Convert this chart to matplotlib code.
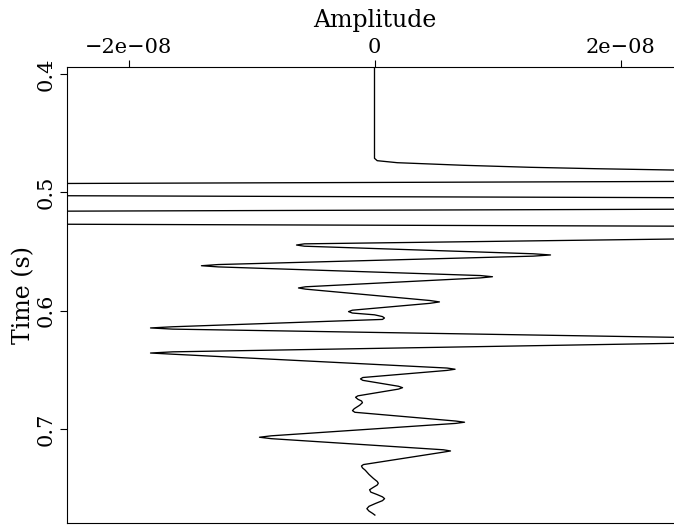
import matplotlib.pyplot as plt

plt.rcParams['font.family'] = 'DejaVu Serif'

# trace samples (time in s, amplitude in units of 1e-9)
time = [0.380, 0.4713, 0.4733, 0.4750, 0.4772, 0.4789, 0.4801, 0.4812,
        # clipped burst
        0.4860, 0.4908, 0.4926, 0.4978, 0.5029, 0.5046, 0.5095, 0.5143,
        0.5160, 0.5215, 0.5270, 0.5287, 0.5340, 0.5393,
        # main wavelet
        0.5436, 0.5446, 0.5456, 0.5520, 0.5530, 0.5540,
        0.5611, 0.5621, 0.5631, 0.5704, 0.5714, 0.5724,
        0.5799, 0.5809, 0.5819, 0.5915, 0.5927, 0.5939,
        0.5997, 0.6009, 0.6021, 0.6036, 0.6051, 0.6063, 0.6075,
        0.6137, 0.6147, 0.6157, 0.6229, 0.6251, 0.6274,
        0.6349, 0.6359, 0.6369, 0.6486, 0.6496, 0.6506,
        0.6566, 0.6578, 0.6590, 0.6640, 0.6652, 0.6664,
        0.6721, 0.6733, 0.6750, 0.6765, 0.6779, 0.6800, 0.6830, 0.6846, 0.6860,
        0.6934, 0.6944, 0.6954, 0.7059, 0.7071, 0.7083,
        0.7177, 0.7187, 0.7197,
        # tail
        0.7302, 0.7314, 0.7330, 0.7350, 0.7385, 0.7420, 0.7445, 0.7460,
        0.7475, 0.7495, 0.7515, 0.7535, 0.7555, 0.7575, 0.7590, 0.7607,
        0.7630, 0.7655, 0.7675, 0.7695, 0.7715, 0.7729]
amp_nano = [0, 0, 0.22, 1.85, 7.24, 12.68, 18.1, 24.3,
            80, 26, -26, -80, -26, 26, 80, 26,
            -26, -80, -26, 26, 80, 26,
            -5.7, -6.34, -5.7, 12.9, 14.31, 12.9,
            -12.7, -14.07, -12.7, 8.6, 9.59, 8.6,
            -5.6, -6.18, -5.6, 4.5, 5.28, 4.5,
            -1.8, -2.11, -1.8, 0, 0.65, 0.81, 0.65,
            -16.4, -18.21, -16.4, 26, 40, 26,
            -16.4, -18.21, -16.4, 5.9, 6.55, 5.9,
            -0.95, -1.14, -0.95, 1.95, 2.28, 1.95,
            -1.35, -1.54, -1.35, -1.05, -0.98, -1.2, -1.65, -1.79, -1.6,
            6.6, 7.32, 6.6, -8.4, -9.35, -8.4,
            5.6, 6.18, 5.6,
            -0.9, -1.06, -0.98, -0.75, -0.45, -0.08, 0.22, 0.31,
            0.22, -0.1, -0.40, -0.30, 0.2, 0.65, 0.82, 0.65,
            0.1, -0.45, -0.62, -0.45, -0.15, 0.03]
amplitude = [a * 1e-9 for a in amp_nano]

xticks = [-2e-8, 0, 2e-8]
xtick_labels = ['\u22122e\u221208', '0', '2e\u221208']
yticks = [0.4, 0.5, 0.6, 0.7]
ytick_labels = ['0.4', '0.5', '0.6', '0.7']

fig = plt.figure(figsize=(6.74, 5.25), dpi=100)
ax = fig.add_axes([67 / 674, 2 / 525, 615 / 674, 456 / 525])
ax.plot(amplitude, time, color='black', lw=0.95)

ax.set_xlim(-2.5e-8, 2.5e-8)
ax.set_ylim(0.7796, 0.3941)

ax.xaxis.tick_top()
ax.xaxis.set_label_position('top')
ax.set_xticks(xticks, xtick_labels)
ax.set_yticks(yticks, ytick_labels)
for lab in ax.get_yticklabels():
    lab.set_rotation(90)
    lab.set_va('center')
ax.tick_params(direction='out', length=5, width=0.8, labelsize=15, pad=2)
ax.tick_params(axis='y', pad=3)
ax.spines['right'].set_visible(False)
for s in ['left', 'top', 'bottom']:
    ax.spines[s].set_linewidth(0.8)

ax.set_xlabel('Amplitude', fontsize=17, labelpad=8)
ax.set_ylabel('Time (s)', fontsize=17, labelpad=1)

fig.savefig('out.png', dpi=100)
